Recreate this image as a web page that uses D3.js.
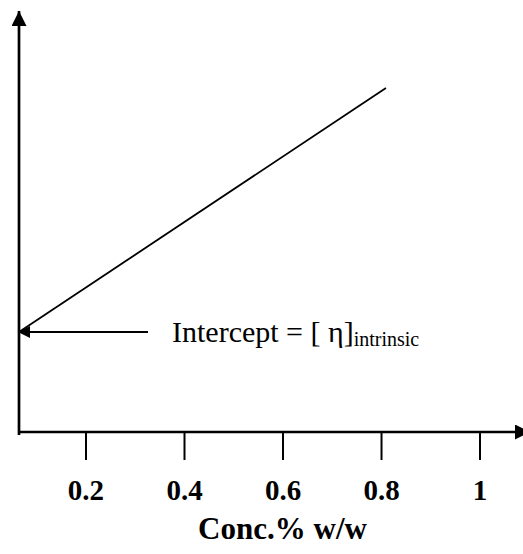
<!DOCTYPE html>
<html>
<head>
<meta charset="utf-8">
<script src="https://cdn.jsdelivr.net/npm/d3@7"></script>
<style>
  body { margin: 0; background: #fff; }
  svg text { font-family: "Liberation Serif", "Times New Roman", serif; fill: #000; }
</style>
</head>
<body>
<svg width="523" height="554"></svg>
<script>
// concentration (% w/w) vs reduced viscosity, straight line fit
const conc = [0.065, 0.81];
const redVisc = [0.25, 0.86];
const tickValues = [0.2, 0.4, 0.6, 0.8, 1];
const tickLabels = ["0.2", "0.4", "0.6", "0.8", "1"];
const xTitle = "Conc.% w/w";
const interceptLabel = "Intercept = [ η]";
const interceptSub = "intrinsic";

const svg = d3.select("svg");

const x = d3.scaleLinear().domain([0.065, 1.07]).range([19, 514]);
const y = d3.scaleLinear().domain([0, 1]).range([432, 32]);

const x0 = x(conc[0]);
const y0 = y(0);

// arrow heads
const defs = svg.append("defs");
defs.append("marker")
  .attr("id", "head")
  .attr("viewBox", "0 0 10 10")
  .attr("refX", 10).attr("refY", 5)
  .attr("markerWidth", 16).attr("markerHeight", 15)
  .attr("markerUnits", "userSpaceOnUse")
  .attr("orient", "auto")
  .append("path").attr("d", "M0,0L10,5L0,10Z").attr("fill", "#000");

defs.append("marker")
  .attr("id", "head2")
  .attr("viewBox", "0 0 10 10")
  .attr("refX", 10).attr("refY", 5)
  .attr("markerWidth", 15).attr("markerHeight", 12)
  .attr("markerUnits", "userSpaceOnUse")
  .attr("orient", "auto")
  .append("path").attr("d", "M0,0L10,5L0,10Z").attr("fill", "#000");

// x axis ticks + labels
const xAxis = d3.axisBottom(x)
  .tickValues(tickValues)
  .tickFormat((d, i) => tickLabels[i])
  .tickSize(28)
  .tickPadding(19);

const gx = svg.append("g")
  .attr("transform", `translate(0,${y0})`)
  .call(xAxis);
gx.select(".domain").remove();
gx.selectAll(".tick line").attr("stroke", "#000").attr("stroke-width", 2);
gx.selectAll(".tick text")
  .style("font-size", "29px")
  .style("font-weight", "bold")
  .style("font-family", "'Liberation Serif', serif");

// axis lines
svg.append("line")
  .attr("x1", x0).attr("y1", y0)
  .attr("x2", 530).attr("y2", y0)
  .attr("stroke", "#000").attr("stroke-width", 2.7)
  .attr("marker-end", "url(#head)");

svg.append("line")
  .attr("x1", x0).attr("y1", y0 + 3)
  .attr("x2", x0).attr("y2", 11)
  .attr("stroke", "#000").attr("stroke-width", 2.7)
  .attr("marker-end", "url(#head)");

// data line
const pts = conc.map((c, i) => [c, redVisc[i]]);
svg.append("path")
  .datum(pts)
  .attr("fill", "none")
  .attr("stroke", "#000")
  .attr("stroke-width", 1.8)
  .attr("d", d3.line().x(d => x(d[0])).y(d => y(d[1])));

// intercept annotation
const yi = y(redVisc[0]);
svg.append("line")
  .attr("x1", x0 + 129).attr("y1", yi)
  .attr("x2", x0 - 1).attr("y2", yi)
  .attr("stroke", "#000").attr("stroke-width", 2.2)
  .attr("marker-end", "url(#head2)");

const ann = svg.append("text")
  .attr("x", 172).attr("y", yi + 10)
  .style("font-size", "30px");
ann.append("tspan").text(interceptLabel);
ann.append("tspan")
  .attr("dy", 4)
  .style("font-size", "20px")
  .text(interceptSub);

// x title
svg.append("text")
  .attr("x", x(0.6))
  .attr("y", 539)
  .attr("text-anchor", "middle")
  .style("font-size", "31px")
  .style("font-weight", "bold")
  .text(xTitle);
</script>
</body>
</html>
